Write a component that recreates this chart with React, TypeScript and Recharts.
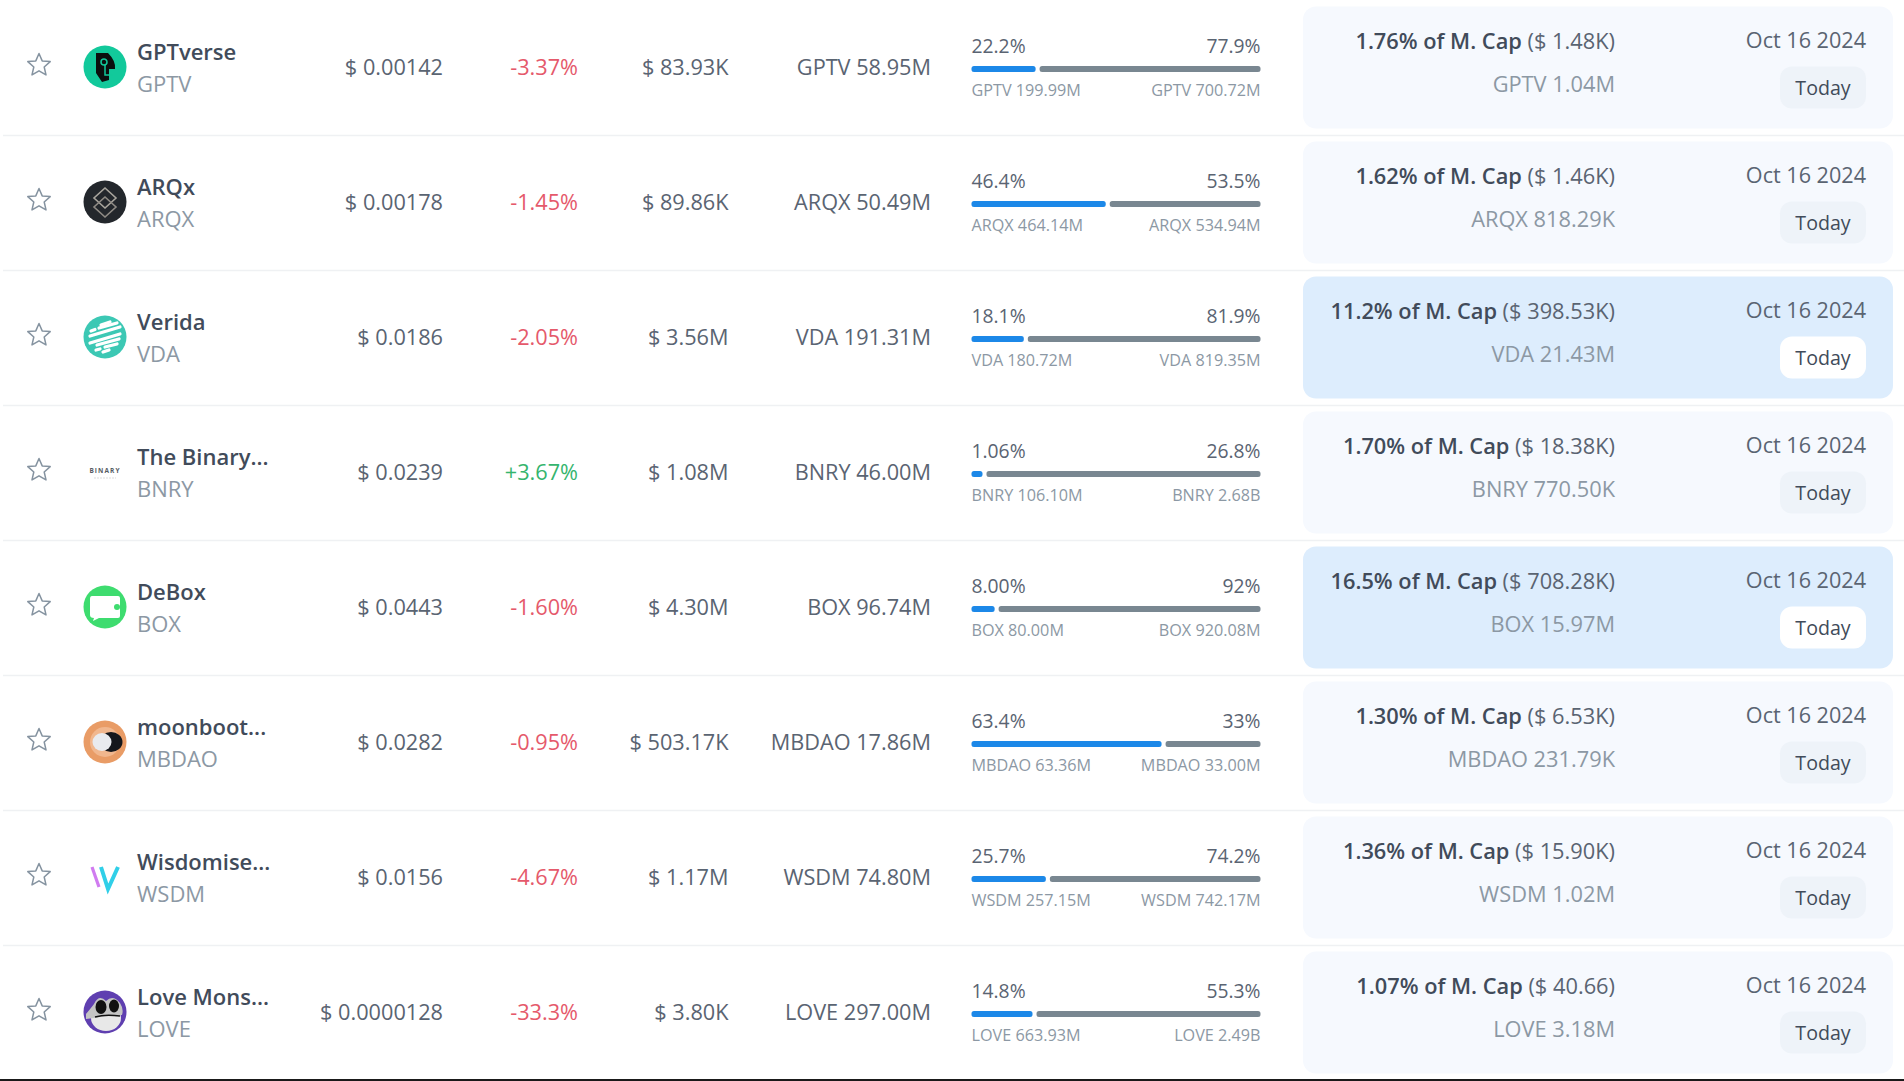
import { BarChart, Bar, XAxis, YAxis, Rectangle } from 'recharts'

const tickers = ['GPTV', 'ARQX', 'VDA', 'BNRY', 'BOX', 'MBDAO', 'WSDM', 'LOVE']
const names = ['GPTverse', 'ARQx', 'Verida', 'The Binary...', 'DeBox', 'moonboot...', 'Wisdomise...', 'Love Mons...']
const prices = ['0.00142', '0.00178', '0.0186', '0.0239', '0.0443', '0.0282', '0.0156', '0.0000128']
const changes = ['-3.37%', '-1.45%', '-2.05%', '+3.67%', '-1.60%', '-0.95%', '-4.67%', '-33.3%']
const marketCaps = ['83.93K', '89.86K', '3.56M', '1.08M', '4.30M', '503.17K', '1.17M', '3.80K']
const circulating = ['58.95M', '50.49M', '191.31M', '46.00M', '96.74M', '17.86M', '74.80M', '297.00M']
const unlockedPct = [22.2, 46.4, 18.1, 1.06, 8.0, 63.4, 25.7, 14.8]
const lockedPct = [77.9, 53.5, 81.9, 26.8, 92, 33, 74.2, 55.3]
const unlockedLabels = ['22.2%', '46.4%', '18.1%', '1.06%', '8.00%', '63.4%', '25.7%', '14.8%']
const lockedLabels = ['77.9%', '53.5%', '81.9%', '26.8%', '92%', '33%', '74.2%', '55.3%']
const unlockedAmounts = ['199.99M', '464.14M', '180.72M', '106.10M', '80.00M', '63.36M', '257.15M', '663.93M']
const lockedAmounts = ['700.72M', '534.94M', '819.35M', '2.68B', '920.08M', '33.00M', '742.17M', '2.49B']
const capShares = ['1.76%', '1.62%', '11.2%', '1.70%', '16.5%', '1.30%', '1.36%', '1.07%']
const unlockValues = ['1.48K', '1.46K', '398.53K', '18.38K', '708.28K', '6.53K', '15.90K', '40.66']
const unlockAmounts = ['1.04M', '818.29K', '21.43M', '770.50K', '15.97M', '231.79K', '1.02M', '3.18M']
const unlockDate = 'Oct 16 2024'

const rows = tickers.map((ticker, i) => ({
  ticker,
  unlocked: unlockedPct[i],
  locked: lockedPct[i],
}))

const FONT = '"Open Sans", sans-serif'
const DARK = '#414b5a'
const MID = '#5a6472'
const GREY = '#8c98a4'

function Logo({ index, cy }: { index: number; cy: number }) {
  const t = `translate(105 ${cy})`
  if (index === 0) {
    return (
      <g transform={t}>
        <circle r={21.5} fill="#12c99b" />
        <path d="M-9 -14 L3 -14 Q11 -6 10 2 L4 2 L4 13 L-3 15 L-9 6 Z" fill="#0b0f0e" />
        <circle cx={-1} cy={-5} r={3} fill="none" stroke="#12c99b" strokeWidth={1.5} />
        <path d="M0 -2 V8 H8" fill="none" stroke="#12c99b" strokeWidth={1.5} />
      </g>
    )
  }
  if (index === 1) {
    return (
      <g transform={t}>
        <circle r={21.5} fill="#23272c" />
        <path d="M0 -14 L11 -4 L0 6 L-11 -4 Z" fill="none" stroke="#a9a59d" strokeWidth={1.6} />
        <path d="M0 -5 L11 5 L0 15 L-11 5 Z" fill="none" stroke="#8f8b85" strokeWidth={1.6} />
      </g>
    )
  }
  if (index === 2) {
    const stripes = [
      [-4, -12, 5, -15],
      [-14, -6, -10, -7.5],
      [-6, -9, 12, -14],
      [-15, -1, 15, -10],
      [-15, 6, 15, -3],
      [-8, 8, 14, 2],
      [-9, 13, -5, 12],
      [0, 10, 12, 7],
      [-2, 15, 4, 13],
    ]
    return (
      <g transform={t}>
        <circle r={21.5} fill="#3cc8b4" />
        {stripes.map((s, i) => (
          <line key={i} x1={s[0]} y1={s[1]} x2={s[2]} y2={s[3]} stroke="#fff" strokeWidth={3.2} strokeLinecap="round" />
        ))}
      </g>
    )
  }
  if (index === 3) {
    return (
      <g transform={t}>
        <text y={1} textAnchor="middle" fontFamily={FONT} fontSize={6.5} fontWeight={700} letterSpacing={1.1} fill="#555b63">
          BINARY
        </text>
        <line x1={-11} x2={11} y1={6} y2={6} stroke="#dcdcdc" strokeWidth={1.2} strokeDasharray="2 1" />
      </g>
    )
  }
  if (index === 4) {
    return (
      <g transform={t}>
        <circle r={21.5} fill="#3edc6f" />
        <path d="M-13 -11 H13 Q15 -11 15 -9 V9 Q15 11 13 11 H-6 L-12 14 L-11 11 Q-15 11 -15 8 V-8 Q-15 -11 -13 -11 Z" fill="#fff" />
        <circle cx={12} cy={0} r={3} fill="#3edc6f" />
      </g>
    )
  }
  if (index === 5) {
    return (
      <g transform={t}>
        <circle r={21.5} fill="#e99c66" />
        <circle r={15} fill="#f1b78e" />
        <ellipse cx={6} cy={0} rx={11.5} ry={10} fill="#15171c" />
        <ellipse cx={-3} cy={0} rx={9.5} ry={9} fill="#e9ebef" />
      </g>
    )
  }
  if (index === 6) {
    return (
      <g transform={t}>
        <path d="M-13 -10 L-6 10" stroke="#d07bf0" strokeWidth={3.2} fill="none" />
        <path d="M-4 -10 L3 12 L13 -10" stroke="#30cfe8" strokeWidth={4} fill="none" />
      </g>
    )
  }
  return (
    <g transform={t}>
      <circle r={21.5} fill="#5f3fb0" />
      <ellipse cx={1} cy={6} rx={15} ry={13} fill="#e8e8e8" />
      <path d="M-19 2 Q-14 -4 -11 -8 Q-6 -18 1 -11 Q8 -18 15 -9 Q19 -3 17 3 Q6 3 0 4 Q-8 6 -19 7 Z" fill="#c4c4c4" />
      <ellipse cx={-4} cy={-5} rx={5.5} ry={7} fill="#111" />
      <ellipse cx={9} cy={-6} rx={5} ry={6.5} fill="#111" />
      <path d="M-10 5 Q0 2 15 4" stroke="#111" strokeWidth={1.6} fill="none" />
    </g>
  )
}

function Star({ cy }: { cy: number }) {
  return (
    <path
      transform={`translate(39 ${cy - 3})`}
      d="M0 -11 L3.2 -3.6 L11.2 -2.9 L5.2 2.5 L7 10.4 L0 6.3 L-7 10.4 L-5.2 2.5 L-11.2 -2.9 L-3.2 -3.6 Z"
      fill="none"
      stroke="#8593a0"
      strokeWidth={1.5}
      strokeLinejoin="round"
    />
  )
}

// the y axis tick carries the whole table row, placed from the band centre
function RowTick({ y, payload }: any) {
  const i = payload.index
  const ticker = tickers[i]
  const hot = parseFloat(capShares[i]) >= 10
  const change = changes[i]
  const text = (x: number, dy: number, value: string, size: number, fill: string, anchor: string, weight = 400) => (
    <text
      x={x}
      y={y + dy}
      fontFamily={FONT}
      fontSize={size}
      fontWeight={weight}
      fill={fill}
      textAnchor={anchor as any}
      dominantBaseline="central"
    >
      {value}
    </text>
  )
  return (
    <g>
      <line x1={3} x2={1904} y1={y + 67} y2={y + 67} stroke="#eff1f3" strokeWidth={1.5} />
      <Star cy={y - 1} />
      <Logo index={i} cy={y - 1.5} />
      {text(137, -18, names[i], 22, DARK, 'start', 600)}
      {text(137, 14.5, ticker, 22, GREY, 'start')}
      {text(443, -2, `$ ${prices[i]}`, 21.7, MID, 'end')}
      {text(578, -2, change, 21.7, change.startsWith('+') ? '#35b56e' : '#e5596b', 'end')}
      {text(728.5, -2, `$ ${marketCaps[i]}`, 21.7, MID, 'end')}
      {text(931, -2, `${ticker} ${circulating[i]}`, 21.7, MID, 'end')}
      {text(971.5, -23.5, unlockedLabels[i], 19.3, MID, 'start')}
      {text(1260.5, -23.5, lockedLabels[i], 19.3, MID, 'end')}
      {text(971.5, 21, `${ticker} ${unlockedAmounts[i]}`, 16.2, GREY, 'start')}
      {text(1260.5, 21, `${ticker} ${lockedAmounts[i]}`, 16.2, GREY, 'end')}
      <rect x={1303} y={y - 62} width={590} height={122} rx={13} fill={hot ? '#ddedfd' : '#f6f9fe'} />
      <text x={1615} y={y - 29} fontFamily={FONT} fontSize={21.8} fill={DARK} textAnchor="end" dominantBaseline="central">
        <tspan fontWeight={600}>{capShares[i]} of M. Cap</tspan>
        <tspan fill={MID}> ($ {unlockValues[i]})</tspan>
      </text>
      {text(1615, 15, `${ticker} ${unlockAmounts[i]}`, 21.8, GREY, 'end')}
      {text(1866, -29, unlockDate, 21.6, MID, 'end')}
      <rect x={1780} y={y - 2} width={86} height={42} rx={12} fill={hot ? '#ffffff' : '#eef3f9'} />
      {text(1823, 18.5, 'Today', 19.6, DARK, 'middle')}
    </g>
  )
}

// inset the segment so the two parts of the bar sit apart
function Segment(props: any) {
  const { x, y, width, height, fill, side } = props
  const inset = side === 'left' ? 0 : 4
  return <Rectangle x={x + inset} y={y} width={Math.max(width - inset, 0)} height={height} fill={fill} radius={2.5} />
}

export default function App() {
  return (
    <div style={{ position: 'absolute', left: 0, top: 0, width: 1904, height: 1081, background: '#fff', overflow: 'hidden' }}>
      <BarChart
        width={1904}
        height={1081}
        data={rows}
        layout="vertical"
        stackOffset="expand"
        margin={{ top: 1, right: 643.5, bottom: 0, left: 970.5 }}
        barCategoryGap={0}
      >
        <XAxis type="number" domain={[0, 1]} hide />
        <YAxis
          type="category"
          dataKey="ticker"
          width={1}
          axisLine={false}
          tickLine={false}
          interval={0}
          tick={RowTick}
        />
        <Bar dataKey="unlocked" stackId="a" fill="#1c88e8" barSize={6} isAnimationActive={false} shape={<Segment side="left" />} />
        <Bar dataKey="locked" stackId="a" fill="#798791" barSize={6} isAnimationActive={false} shape={<Segment side="right" />} />
      </BarChart>
      <div style={{ position: 'absolute', left: 0, right: 0, bottom: 0, height: 2, background: '#1a1a1a' }} />
    </div>
  )
}
